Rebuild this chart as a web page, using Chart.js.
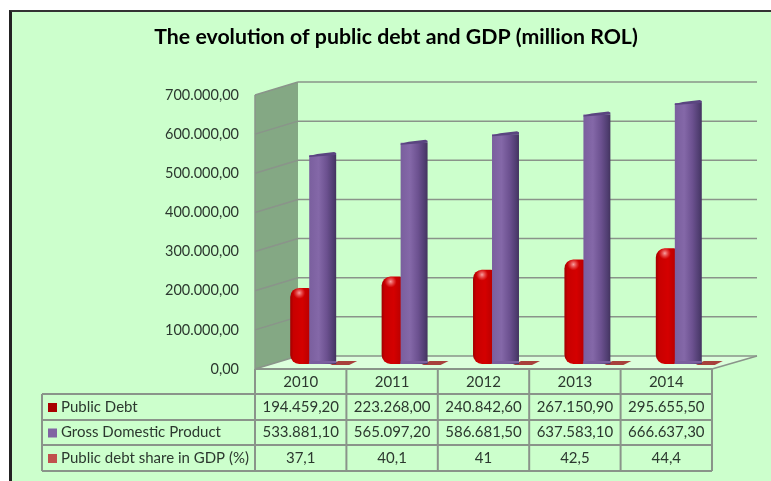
<!DOCTYPE html>
<html>
<head>
<meta charset="utf-8">
<title>Public debt and GDP</title>
<script src="https://cdn.jsdelivr.net/npm/chart.js@4"></script>
<style>
  html, body { margin: 0; background: #fff; overflow: hidden; }
  #frame {
    position: absolute; left: 9px; top: 10px; width: 762px; height: 471px;
    box-sizing: border-box; background: #ccffcc;
    border-left: 3px solid #222; border-top: 2px solid #333;
  }
  #debtChart { position: absolute; left: 0; top: 0; }
</style>
</head>
<body>
<div id="frame"></div>
<canvas id="debtChart" width="771" height="481"></canvas>
<script>
const years = ['2010', '2011', '2012', '2013', '2014'];
const publicDebt = [194459.2, 223268.0, 240842.6, 267150.9, 295655.5];
const grossProduct = [533881.1, 565097.2, 586681.5, 637583.1, 666637.3];
const debtShare = [37.1, 40.1, 41, 42.5, 44.4];
const seriesNames = ['Public Debt', 'Gross Domestic Product', 'Public debt share in GDP (%)'];
const keyColors = ['#a80000', '#8064a2', '#c0504d'];

const FONT = 'Lato, "Liberation Sans", sans-serif';
const TEXT = '#2c382f';
const LINE = '#8a948a';

const money = v => v.toLocaleString('de-DE', { minimumFractionDigits: 2, maximumFractionDigits: 2 });
const percent = v => String(v).replace('.', ',');

// depth of the 3D box, and how far the bars sit behind the front edge
const wallDx = 43, wallDy = 13;
const barDx = 22, barDy = 5;
// bars overlap, so each series gets its own sideways shift
const seriesDx = [-19, 0, 21];

function polygon(ctx, pts, fill, stroke, lineWidth) {
  ctx.beginPath();
  pts.forEach((p, i) => i ? ctx.lineTo(p[0], p[1]) : ctx.moveTo(p[0], p[1]));
  ctx.closePath();
  if (fill) { ctx.fillStyle = fill; ctx.fill(); }
  if (stroke) { ctx.strokeStyle = stroke; ctx.lineWidth = lineWidth || 1; ctx.stroke(); }
}

function segment(ctx, x1, y1, x2, y2, color, width) {
  ctx.beginPath();
  ctx.moveTo(x1, y1);
  ctx.lineTo(x2, y2);
  ctx.strokeStyle = color;
  ctx.lineWidth = width;
  ctx.stroke();
}

// side wall, floor and back wall grid
const boxPlugin = {
  id: 'box',
  beforeDatasetsDraw(chart) {
    const { ctx, chartArea: a, scales: { y } } = chart;
    ctx.save();
    polygon(ctx, [[a.left, a.bottom], [a.left + wallDx, a.bottom - wallDy],
      [a.right + wallDx + 2, a.bottom - wallDy], [a.right, a.bottom]], '#dcffdc');
    polygon(ctx, [[a.left, a.top], [a.left + wallDx, a.top - wallDy],
      [a.left + wallDx, a.bottom - wallDy], [a.left, a.bottom]], '#84a884');
    y.ticks.forEach(t => {
      const py = y.getPixelForValue(t.value);
      segment(ctx, a.left, py, a.left + wallDx, py - wallDy, LINE, 1.5);
      segment(ctx, a.left + wallDx, py - wallDy, a.right + wallDx + 2, py - wallDy, LINE, 1.5);
    });
    segment(ctx, a.left, a.top, a.left, a.bottom, LINE, 1.5);
    segment(ctx, a.right, a.bottom, a.right + wallDx + 2, a.bottom - wallDy, LINE, 1.5);
    ctx.restore();
  }
};

function shade(ctx, el, stops) {
  const half = el.width / 2;
  const g = ctx.createLinearGradient(el.x - half, 0, el.x + half, 0);
  stops.forEach(s => g.addColorStop(s[0], s[1]));
  el.options = { ...el.options, backgroundColor: g };
}

const barStops = [
  [[0, '#a00000'], [0.12, '#c80000'], [0.45, '#d40000'], [0.75, '#b80000'], [1, '#8c0000']],
  [[0, '#7a5f9e'], [0.35, '#8468a8'], [0.65, '#6c5190'], [0.9, '#4f3d70'], [1, '#43335e']]
];

// pushes each dataset back into the box and adds the rounded highlights and caps
const barPlugin = {
  id: 'bars',
  beforeDatasetDraw(chart, args) {
    const { ctx } = chart;
    ctx.save();
    ctx.translate(barDx + seriesDx[args.index], -barDy);
    if (barStops[args.index]) args.meta.data.forEach(el => shade(ctx, el, barStops[args.index]));
  },
  afterDatasetDraw(chart, args) {
    const { ctx } = chart;
    args.meta.data.forEach(el => {
      const half = el.width / 2, l = el.x - half, r = el.x + half;
      if (args.index === 0) {
        const hx = l + 9, hy = el.y + 5;
        const glow = ctx.createRadialGradient(hx, hy, 0, hx, hy, 6);
        glow.addColorStop(0, 'rgba(255,190,190,0.85)');
        glow.addColorStop(1, 'rgba(255,120,120,0)');
        ctx.fillStyle = glow;
        ctx.fillRect(hx - 7, hy - 6, 14, 12);
      } else if (args.index === 1) {
        polygon(ctx, [[l, el.y + 1], [l + 8, el.y - 1], [r - 2, el.y - 3], [r, el.y - 2], [r, el.y], [l, el.y + 2]], '#5a4580');
        polygon(ctx, [[l, el.base], [r, el.base - 1], [r, el.base - 3], [l, el.base - 3]], '#7a5f9e');
      } else {
        polygon(ctx, [[l, el.base + 1], [l + 8, el.base - 3], [r, el.base - 3], [r - 8, el.base + 1]], '#a8403c');
      }
    });
    ctx.restore();
  }
};

// value table under the plot, columns follow the x scale
const tablePlugin = {
  id: 'table',
  afterDraw(chart) {
    const { ctx, chartArea: a, scales: { x } } = chart;
    const left = 42, rowTops = [394, 420, 445, 471];
    const rows = [publicDebt.map(money), grossProduct.map(money), debtShare.map(percent)];
    const colW = (a.right - a.left) / years.length;
    ctx.save();
    segment(ctx, a.left, a.bottom, a.right, a.bottom, LINE, 2);
    rowTops.forEach(py => segment(ctx, left, py, a.right, py, LINE, 2));
    segment(ctx, left, rowTops[0], left, rowTops[3], LINE, 2);
    for (let i = 0; i <= years.length; i++) {
      const px = a.left + i * colW;
      segment(ctx, px, a.bottom, px, rowTops[3], LINE, 2);
    }
    ctx.font = '15px ' + FONT;
    ctx.textBaseline = 'middle';
    rows.forEach((cells, r) => {
      const cy = (rowTops[r] + rowTops[r + 1]) / 2;
      ctx.fillStyle = keyColors[r];
      ctx.fillRect(48, cy - 4, 9, 9);
      ctx.fillStyle = TEXT;
      ctx.textAlign = 'left';
      ctx.fillText(seriesNames[r], 61, cy);
      ctx.textAlign = 'center';
      cells.forEach((c, i) => ctx.fillText(c, x.getPixelForTick(i), cy));
    });
    ctx.restore();
  }
};

const barOptions = { grouped: false, categoryPercentage: 1, barPercentage: 0.295, clip: false, borderWidth: 0 };

new Chart(document.getElementById('debtChart'), {
  type: 'bar',
  data: {
    labels: years,
    datasets: [
      { label: seriesNames[0], data: publicDebt, backgroundColor: keyColors[0], order: 2,
        borderRadius: 9, borderSkipped: false, ...barOptions },
      { label: seriesNames[1], data: grossProduct, backgroundColor: keyColors[1], order: 1, ...barOptions },
      { label: seriesNames[2], data: debtShare, backgroundColor: keyColors[2], order: 3, ...barOptions }
    ]
  },
  options: {
    responsive: false,
    animation: false,
    layout: { padding: { left: 80, right: 59, top: 26, bottom: 87 } },
    plugins: {
      legend: { display: false },
      tooltip: { enabled: false },
      title: {
        display: true,
        text: 'The evolution of public debt and GDP (million ROL)',
        color: '#000',
        font: { family: FONT, size: 21.3, weight: 'bold', lineHeight: 1 },
        padding: { top: 0, bottom: 47.7 }
      }
    },
    scales: {
      x: {
        grid: { display: false, drawTicks: false },
        border: { display: false },
        ticks: { color: TEXT, font: { family: FONT, size: 15 }, padding: 4, maxRotation: 0 },
        afterFit(s) { s.height = 25; }
      },
      y: {
        min: 0,
        max: 700000,
        grid: { display: false, drawTicks: false },
        border: { display: false },
        ticks: { stepSize: 100000, color: TEXT, font: { family: FONT, size: 14.5 }, padding: 16, callback: money },
        afterFit(s) { s.width = 175; }
      }
    }
  },
  plugins: [boxPlugin, barPlugin, tablePlugin]
});
</script>
</body>
</html>
